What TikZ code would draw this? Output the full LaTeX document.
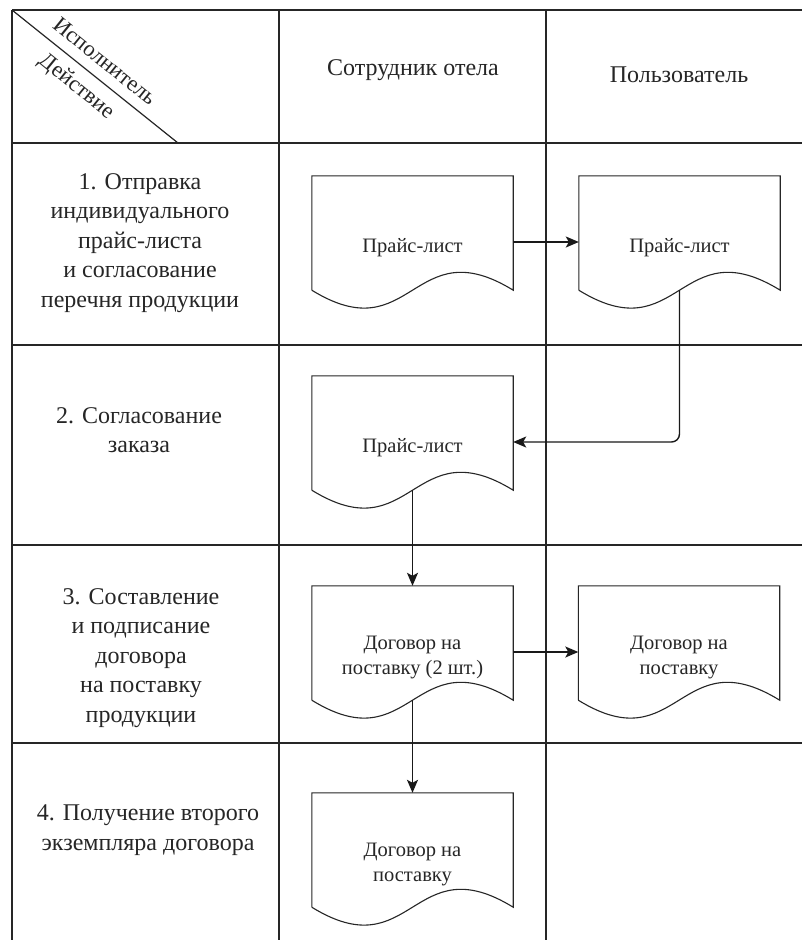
\documentclass[tikz,border=0pt]{standalone}
\usepackage{fontspec}
\setmainfont{Liberation Serif}
\usetikzlibrary{arrows.meta,calc}
\tikzset{
  gridline/.style={line width=1.5pt, black!85},
  docline/.style={line width=1.1pt, black!85},
  doc/.style={minimum width=201pt, minimum height=132pt, inner sep=0pt,
    font=\fontsize{20.5}{25}\selectfont, draw=none, text=black!85},
  rowlabel/.style={align=center, font=\fontsize{24}{29.5}\selectfont, inner sep=0pt, text=black!85},
  headlabel/.style={align=center, font=\fontsize{24}{29}\selectfont, inner sep=0pt, text=black!85},
  diaglabel/.style={font=\fontsize{22.5}{27}\selectfont, inner sep=0pt, text=black!85, rotate=-39},
  flow/.style={line width=1.4pt, black!90, -{Stealth[length=13pt,width=11pt,inset=3pt]}},
}
\newcommand\doctext[1]{\raisebox{-5pt}[\height][\depth]{\begin{tabular}{@{}c@{}}#1\end{tabular}}}
\newcommand\docoutline[1]{%
  \draw[docline] ($(#1.south west)+(0,-18)$) -- (#1.north west) -- (#1.north east)
    -- ($(#1.south east)+(0,-18)$)
    .. controls ($(#1.south)+(0,-80)$) and ($(#1.south)+(0,44)$) .. ($(#1.south west)+(0,-18)$);
  \coordinate (#1-b) at ($(#1.south)+(0,-18)$);
}
\begin{document}
\begin{tikzpicture}[x=1pt,y=-1pt]
  \fill[white] (0,0) rectangle (802,940);
  \useasboundingbox (0,0) rectangle (802,940);
  % table grid
  \draw[gridline] (12,10) -- (802,10);
  \foreach \yy in {143,345,545,743} \draw[gridline] (12,\yy) -- (802,\yy);
  \foreach \xx in {12,279,546} \draw[gridline] (\xx,10) -- (\xx,940);
  \draw[gridline, line width=1.2pt] (12,10) -- (178,143);
  % header
  \node[diaglabel] (hisp) at (105,61) {Исполнитель};
  \node[diaglabel] (hdej) at (76,87) {Действие};
  \node[headlabel] (hstaff) at (413,70) {Сотрудник отела};
  \node[headlabel] (huser) at (679,75) {Пользователь};
  % row labels
  \node[rowlabel] (r1) at (140,243) {1. Отправка\\индивидуального\\прайс-листа\\и согласование\\перечня продукции};
  \node[rowlabel] (r2) at (139,430) {2. Согласование\\заказа};
  \node[rowlabel] (r3) at (141,658) {3. Составление\\и подписание\\договора\\на поставку\\продукции};
  \node[rowlabel] (r4) at (148,830) {4. Получение второго\\экземпляра договора};
  % documents
  \node[doc] (d1) at (412.5,242) {\doctext{Прайс-лист}}; \docoutline{d1}
  \node[doc] (d2) at (679.5,242) {\doctext{Прайс-лист}}; \docoutline{d2}
  \node[doc] (d3) at (412.5,442) {\doctext{Прайс-лист}}; \docoutline{d3}
  \node[doc] (d4) at (412.5,652) {\doctext{Договор на\\поставку (2 шт.)}}; \docoutline{d4}
  \node[doc] (d5) at (679,652) {\doctext{Договор на\\поставку}}; \docoutline{d5}
  \node[doc] (d6) at (412.5,859) {\doctext{Договор на\\поставку}}; \docoutline{d6}
  % connectors
  \draw[flow] (d1.east) -- (d2.west);
  \draw[flow, rounded corners=8pt] (d2-b) |- (d3.east);
  \draw[flow] (d3-b) -- (d4.north);
  \draw[flow] (d4.east) -- (d5.west);
  \draw[flow] (d4-b) -- (d6.north);
\end{tikzpicture}
\end{document}
